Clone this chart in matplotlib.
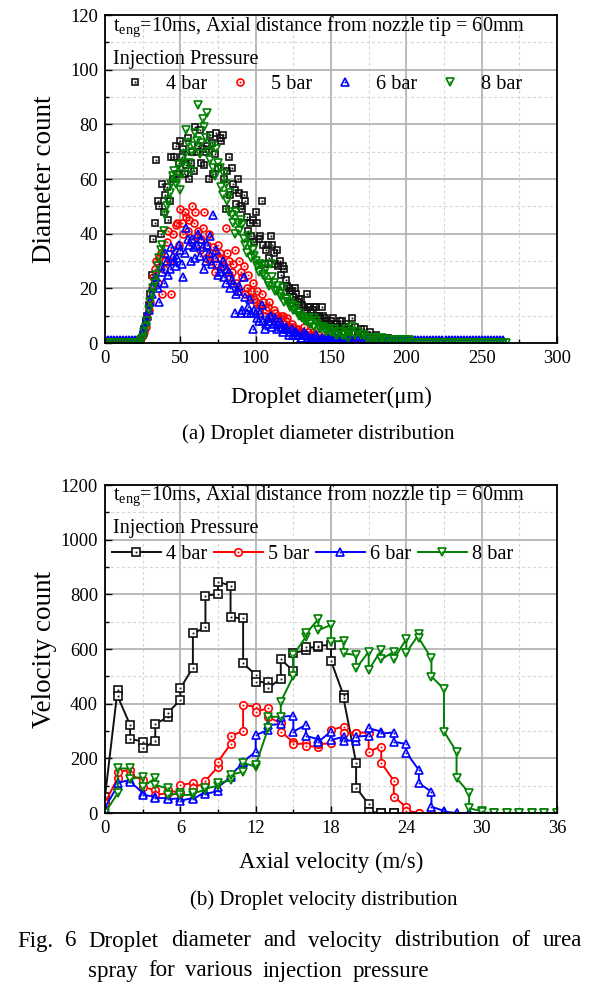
import matplotlib
matplotlib.use('Agg')
import matplotlib.pyplot as plt
from matplotlib.lines import Line2D
from matplotlib.ticker import MultipleLocator

plt.rcParams['font.family'] = ['Liberation Serif', 'DejaVu Serif']
plt.rcParams['mathtext.fontset'] = 'custom'
plt.rcParams['mathtext.rm'] = 'Liberation Serif'

labels = ['4 bar', '5 bar', '6 bar', '8 bar']
colors = ['#111111', '#ff0000', '#0000ff', '#008000']
markers = ['s', 'o', '^', 'v']
msizes = [4.8, 5.0, 5.8, 5.8]

# (a) droplet diameter, 2 um bins (even) + in-between readings (odd)
diam_bins = list(range(0, 268, 2))
diam_bins_odd = list(range(25, 163, 2))

diam_4bar = [0, 0, 0, 0, 0, 0, 0, 0, 0, 0, 0, 0,
             1, 5, 10, 18, 38, 67, 50, 58, 54, 45,
             68, 68, 62, 74, 71, 65, 60, 70, 79, 72,
             66, 65, 72, 76, 62, 77, 75, 76, 49, 68,
             64, 56, 60, 50, 54, 46, 44, 45, 48, 38,
             52, 29, 36, 39, 33, 34, 30, 28, 23, 20,
             19, 20, 15, 16, 13, 18, 13, 12, 13, 10,
             13, 9, 7, 8, 6, 7, 8, 6, 7, 5,
             9, 6, 4, 5, 5, 3, 4, 2, 3, 2,
             2, 1, 2, 1, 1, 1, 1, 1, 1, 0, 0]
diam_4bar_odd = [3, 8, 14, 25, 44, 52, 40, 48, 57, 52,
                 60, 72, 66, 68, 62, 75, 66, 63, 70, 78,
                 71, 70, 60, 73, 69, 64, 74, 60, 63, 54,
                 58, 51, 55, 49, 52, 41, 39, 37, 44, 39,
                 36, 34, 31, 36, 29, 28, 25, 27, 21, 19,
                 17, 18, 16, 14, 12, 13, 11, 13, 10, 9,
                 10, 8, 7, 9, 7, 6, 8, 6, 4]

diam_5bar = [0, 0, 0, 0, 0, 0, 0, 0, 0, 0, 1, 1,
             2, 4, 9, 15, 24, 30, 31, 18, 30, 41,
             18, 34, 44, 49, 40, 46, 45, 50, 48, 41,
             38, 48, 36, 30, 35, 29, 33, 28, 42, 30,
             26, 34, 19, 26, 28, 20, 17, 22, 15, 12,
             18, 10, 13, 9, 12, 7, 9, 10, 8, 5,
             7, 4, 5, 3, 6, 2, 3, 4, 2, 3,
             2, 1, 2, 2, 1, 1, 2, 1, 1, 1,
             1, 0, 1, 0, 1, 0, 1, 0, 1, 0,
             1, 0, 1, 0, 1, 0, 0, 1, 0, 0, 0]
diam_5bar_odd = [3, 6, 12, 20, 27, 22, 33, 27, 37, 30,
                 40, 43, 36, 44, 48, 41, 37, 44, 39, 34,
                 42, 31, 40, 33, 26, 36, 31, 27, 33, 24,
                 29, 22, 30, 24, 18, 25, 19, 16, 19, 14,
                 15, 12, 15, 10, 11, 9, 10, 7, 9, 6,
                 6, 5, 4, 4, 3, 4, 2, 3, 2, 2,
                 2, 2, 1, 2, 1, 1, 1, 1, 1]

diam_6bar = [1, 1, 1, 1, 1, 1, 1, 1, 1, 1, 1, 1,
             3, 6, 10, 15, 21, 24, 15, 26, 33, 25,
             35, 30, 31, 34, 24, 42, 36, 38, 31, 40,
             38, 27, 36, 39, 47, 34, 26, 30, 22, 26,
             23, 11, 19, 11, 24, 11, 16, 5, 11, 8,
             14, 5, 9, 10, 7, 5, 8, 4, 6, 3,
             5, 4, 3, 2, 4, 3, 1, 2, 3, 1,
             2, 1, 2, 1, 3, 1, 2, 1, 1, 1,
             1, 1, 1, 1, 1, 1, 1, 1, 1, 1,
             1, 1, 1, 1, 1, 1, 1, 1, 1, 1,
             1, 1, 1, 1, 1, 1, 1, 1, 1, 1,
             1, 1, 1, 1, 1, 1, 1, 1, 1, 1,
             1, 1, 1, 1, 1, 1, 1, 1, 1, 1, 1]
diam_6bar_odd = [4, 8, 12, 18, 23, 20, 28, 22, 30, 27,
                 32, 28, 36, 29, 33, 38, 30, 35, 36, 32,
                 35, 30, 33, 29, 31, 25, 28, 24, 27, 20,
                 22, 18, 21, 12, 17, 13, 11, 12, 9, 11,
                 8, 7, 8, 6, 9, 7, 6, 5, 5, 4,
                 3, 4, 3, 2, 3, 2, 2, 1, 2, 1,
                 1, 2, 1, 1, 2, 1, 1, 1, 1]

diam_8bar = [0, 0, 0, 0, 0, 0, 0, 0, 0, 0, 0, 0,
             1, 4, 8, 15, 20, 25, 31, 36, 47, 52,
             58, 63, 60, 56, 66, 78, 66, 70, 77, 87,
             73, 79, 84, 67, 64, 71, 64, 54, 58, 48,
             47, 40, 44, 45, 38, 33, 36, 34, 30, 26,
             28, 24, 22, 29, 22, 19, 18, 20, 16, 15,
             14, 12, 11, 10, 9, 8, 7, 9, 8, 6,
             6, 5, 5, 4, 5, 3, 4, 3, 5, 4,
             6, 3, 4, 3, 3, 2, 2, 2, 2, 1,
             2, 1, 1, 1, 1, 1, 1, 1, 1, 1,
             0, 0, 0, 0, 0, 0, 0, 0, 0, 0,
             0, 0, 0, 0, 0, 0, 0, 0, 0, 0,
             0, 0, 0, 0, 0, 0, 0, 0, 0, 0,
             0, 0]
diam_8bar_odd = [2, 6, 12, 18, 22, 28, 34, 41, 50, 55,
                 61, 58, 65, 62, 69, 73, 63, 72, 74, 69,
                 82, 75, 70, 72, 61, 66, 57, 62, 52, 55,
                 44, 48, 41, 43, 36, 39, 31, 32, 28, 29,
                 25, 27, 21, 24, 19, 21, 17, 15, 16, 13,
                 12, 13, 10, 9, 8, 9, 7, 6, 7, 5,
                 6, 4, 5, 4, 3, 4, 3, 3, 2]

# (b) axial velocity, m/s (two readings per velocity step)
vel_x = [0,
         1, 1, 2, 2, 3, 3, 4, 4, 5, 5,
         6, 6, 7, 7, 8, 8, 9, 9, 10, 10,
         11, 11, 12, 12, 13, 13, 14, 14, 15, 15,
         16, 16, 17, 17, 18, 18, 19, 19, 20, 20,
         21, 21, 22, 22, 23, 23, 24, 24, 25, 25,
         26, 26, 27, 27, 28, 28, 29, 29, 30, 30,
         31, 31, 32, 32, 33, 33, 34, 34, 35, 35,
         36, 36]

vel_4bar = [60,
            450, 428, 322, 272, 261, 237, 263, 326, 350, 367,
            413, 456, 532, 657, 679, 795, 801, 846, 832, 716,
            712, 548, 505, 479, 479, 458, 491, 562, 520, 585,
            596, 606, 606, 612, 615, 557, 430, 419, 184, 93,
            32, 5, 0, 0, 0, 0]

vel_5bar = [37,
            127, 151, 157, 139, 121, 95, 84, 66, 73, 84,
            73, 102, 110, 93, 110, 118, 169, 188, 252, 283,
            299, 395, 389, 371, 383, 350, 330, 298, 259, 251,
            255, 245, 243, 252, 255, 304, 316, 292, 294, 294,
            294, 225, 243, 184, 118, 60, 21, 9, 0, 0,
            0, 0]

vel_6bar = [20,
            99, 110, 121, 115, 74, 66, 60, 54, 55, 50,
            54, 45, 55, 50, 78, 70, 80, 95, 130, 139,
            183, 188, 224, 285, 304, 322, 325, 352, 356, 298,
            322, 282, 270, 261, 298, 267, 279, 265, 265, 279,
            283, 310, 298, 291, 294, 261, 252, 221, 157, 109,
            78, 23, 8, 5, 0, 0, 0, 0, 0, 0,
            0, 0, 0, 0, 0, 0, 0, 0, 0, 0,
            0, 0]

vel_8bar = [0,
            72, 163, 163, 124, 133, 96, 127, 102, 90, 66,
            72, 66, 66, 72, 85, 90, 99, 108, 121, 140,
            151, 184, 169, 175, 310, 352, 352, 407, 501, 578,
            645, 657, 709, 669, 688, 627, 630, 584, 578, 529,
            590, 523, 596, 562, 590, 562, 637, 587, 654, 639,
            566, 499, 454, 298, 224, 127, 74, 17, 7, 2,
            0, 0, 0, 0, 0, 0, 0, 0, 0, 0,
            0, 0]

diam_series = [diam_4bar, diam_5bar, diam_6bar, diam_8bar]
diam_series_odd = [diam_4bar_odd, diam_5bar_odd, diam_6bar_odd, diam_8bar_odd]
vel_series = [vel_4bar, vel_5bar, vel_6bar, vel_8bar]

W, H = 593, 989
fig = plt.figure(figsize=(W / 100, H / 100), dpi=100)
ax1 = fig.add_axes([105 / W, 1 - 343 / H, 452 / W, 328 / H])
ax2 = fig.add_axes([105 / W, 1 - 813 / H, 452 / W, 328 / H])


def style_axes(ax, xmax, xmaj, ymax, ymaj):
    ax.set_xlim(0, xmax)
    ax.set_ylim(0, ymax)
    ax.xaxis.set_major_locator(MultipleLocator(xmaj))
    ax.xaxis.set_minor_locator(MultipleLocator(xmaj / 2))
    ax.yaxis.set_major_locator(MultipleLocator(ymaj))
    ax.yaxis.set_minor_locator(MultipleLocator(ymaj / 2))
    ax.grid(which='major', color='#b4b4b4', lw=1.3)
    ax.grid(which='minor', color='#d4d4d4', lw=0.8, ls=(0, (2.5, 2.5)))
    ax.set_axisbelow(True)
    ax.tick_params(which='both', direction='in', top=False, right=False,
                   labelsize=13.3, width=1, pad=5)
    ax.tick_params(which='major', length=5)
    ax.tick_params(which='minor', length=3)
    for s in ax.spines.values():
        s.set_linewidth(1.3)


def header(ax, y0):
    ax.text(0.018, y0, r'$\mathregular{t_{eng}}$=10ms, Axial distance from nozzle tip = 60mm',
            transform=ax.transAxes, fontsize=14.6, va='center')
    ax.text(0.018, y0 - 0.098, 'Injection Pressure', transform=ax.transAxes,
            fontsize=14.6, va='center')


def dot(c):
    return dict(ls='none', marker='s', ms=1.3, mfc=c, mec=c, mew=0)


# ---- (a) diameter scatter
style_axes(ax1, 300, 50, 120, 20)
handles = []
for vals, odd, c, m, ms in zip(diam_series, diam_series_odd, colors, markers, msizes):
    for xs, ys in ((diam_bins[:len(vals)], vals), (diam_bins_odd, odd)):
        ax1.plot(xs, ys, ls='none', marker=m, ms=ms, mfc='none', mec=c, mew=1.2)
        ax1.plot(xs, ys, **dot(c))
    handles.append((Line2D([], [], ls='none', marker=m, ms=ms, mfc='none', mec=c, mew=1.2),
                    Line2D([], [], **dot(c))))
header(ax1, 0.963)
ax1.legend(handles, labels, ncol=4, loc='center left', bbox_to_anchor=(0.033, 0.787),
           frameon=False, fontsize=14.6, handlelength=1.5, handletextpad=0.75,
           columnspacing=0.9, borderaxespad=0, borderpad=0)
ax1.set_ylabel('Diameter count', fontsize=19.5, va='center')
ax1.yaxis.set_label_coords(-0.133, 0.5)
ax1.set_xlabel('Droplet diameter(\u03bcm)', fontsize=16.5, va='center')
ax1.xaxis.set_label_coords(0.5, -0.165)

# ---- (b) velocity lines
style_axes(ax2, 36, 6, 1200, 200)
handles = []
for vals, c, m, ms in zip(vel_series, colors, markers, msizes):
    xs = vel_x[:len(vals)]
    ax2.plot(xs, vals, ls='-', lw=1.4, color=c, marker=m, ms=ms + 0.4,
             mfc='white', mec=c, mew=1.2)
    ax2.plot(xs, vals, **dot(c))
    handles.append((Line2D([], [], ls='-', lw=1.4, color=c, marker=m, ms=ms + 0.4,
                           mfc='white', mec=c, mew=1.2),
                    Line2D([], [], **dot(c))))
header(ax2, 0.966)
ax2.legend(handles, labels, ncol=4, loc='center left', bbox_to_anchor=(0.0155, 0.787),
           frameon=False, fontsize=14.6, handlelength=2.4, handletextpad=0.25,
           columnspacing=0.35, borderaxespad=0, borderpad=0)
ax2.set_ylabel('Velocity count', fontsize=19.5, va='center')
ax2.yaxis.set_label_coords(-0.133, 0.5)
ax2.set_xlabel('Axial velocity (m/s)', fontsize=16.5, va='center')
ax2.xaxis.set_label_coords(0.5, -0.152)

# ---- captions
fig.text(318 / W, 1 - 434 / H, '(a) Droplet diameter distribution',
         ha='center', va='center', fontsize=15)
fig.text(324 / W, 1 - 900 / H, '(b) Droplet velocity distribution',
         ha='center', va='center', fontsize=15)


def spread_line(words, x0, x1, ypix, size):
    r = fig.canvas.get_renderer()
    txts = [fig.text(0, 1 - ypix / H, w, fontsize=size, va='center') for w in words]
    widths = [t.get_window_extent(r).width for t in txts]
    gap = (x1 - x0 - sum(widths)) / (len(words) - 1)
    x = x0
    for t, w in zip(txts, widths):
        t.set_x(x / W)
        x += w + gap


spread_line('Fig. 6 Droplet diameter and velocity distribution of urea'.split(),
            17, 582, 941, 16.5)
spread_line('spray for various injection pressure'.split(), 88, 429, 971, 16.5)

fig.savefig('out.png', dpi=100)
